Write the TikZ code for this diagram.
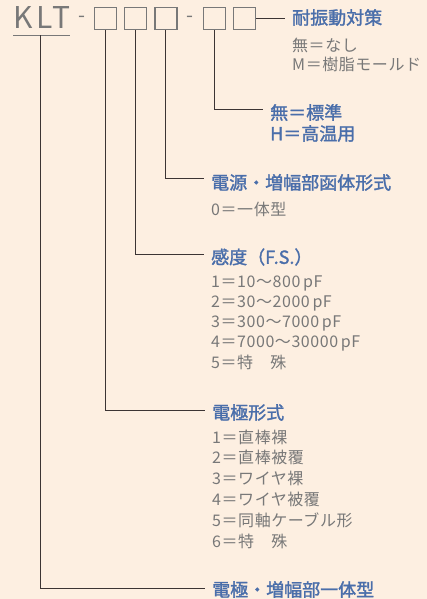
\documentclass[tikz,border=0pt]{standalone}
\usepackage{fontspec}
\setmainfont{Noto Sans CJK JP}
\newfontfamily\kltfont[LetterSpace=12]{Noto Sans CJK JP}
\newfontfamily\headfont[FakeBold=1.6]{Noto Sans CJK JP}
\newfontfamily\itemfont[LetterSpace=3.5]{Noto Sans CJK JP}
\usetikzlibrary{positioning}
\definecolor{paper}{HTML}{FDEFE1}
\definecolor{ink}{HTML}{3C3434}
\definecolor{greytxt}{HTML}{787878}
\definecolor{bluetxt}{HTML}{4A6EAA}
\tikzset{
	slot/.style={
		draw=greytxt,
		line width=1.6pt,
		minimum size=22pt,
		inner sep=0pt
	},
	head/.style={
		anchor=west,
		inner xsep=7pt,
		inner ysep=0pt,
		text=bluetxt,
		font=\fontsize{18}{18}\headfont
	},
	item/.style={
		anchor=west,
		inner sep=0pt,
		text height=13pt,
		text depth=3pt,
		text=greytxt,
		font=\fontsize{16}{16}\itemfont
	},
	lead/.style={
		draw=ink,
		line width=1pt
	}
}

\begin{document}
\begin{tikzpicture}[x=1pt, y=-1pt]
\fill[paper] (0,0) rectangle (427,599);
\useasboundingbox (0,0) rectangle (427,599);

% model code
\node[anchor=base west, inner sep=0pt, text=greytxt, font=\fontsize{30}{30}\kltfont] (klt) at (13,29) {KLT};
\draw[greytxt, line width=1.2pt] ([yshift=-6pt]klt.south west) -- ([yshift=-6pt]klt.south east);
\node[text=greytxt, font=\fontsize{20}{20}\selectfont, inner sep=0pt] (d1) at (82,19) {-};
\node[slot] (b1) at (105.5,18.5) {};
\node[slot, right=6.5pt of b1] (b2) {};
\node[slot, right=6.5pt of b2] (b3) {};
\node[text=greytxt, font=\fontsize{20}{20}\selectfont, inner sep=0pt] (d2) at (190,19) {-};
\node[slot] (b4) at (214.5,18.5) {};
\node[slot, right=6.5pt of b4] (b5) {};

% headings
\node[head] (hd5) at (285,17.5) {耐振動対策};
\node[head] (hd4) at (263,112.5) {無＝標準};
\node[head] (hd4b) at (263,133.5) {H＝高温用};
\node[head] (hd3) at (204,182.5) {電源・増幅部函体形式};
\node[head] (hd2) at (204,257) {感度（F.S.）};
\node[head] (hd1) at (205,412.5) {電極形式};
\node[head] (hd0) at (205,589.5) {電極・増幅部一体型};

% choices
\node[item] (m1) at (292,47) {無＝なし};
\node[item] (m2) at (292,65.5) {M＝樹脂モールド};
\node[item] (c1) at (211,210) {0＝一体型};
\foreach \t [count=\i] in {1＝10〜800\,pF, 2＝30〜2000\,pF, 3＝300〜7000\,pF, 4＝7000〜30000\,pF, 5＝特　殊}{
	\node[item] (s\i) at (211,261.75+20.25*\i) {\t};
}
\foreach \t [count=\i] in {1＝直棒裸, 2＝直棒被覆, 3＝ワイヤ裸, 4＝ワイヤ被覆, 5＝同軸ケーブル形, 6＝特　殊}{
	\node[item] (e\i) at (212,417.2+20.8*\i) {\t};
}

% leads
\draw[lead] (b5.east) -- (b5.east -| hd5.west);
\draw[lead] (b4.south) |- ([yshift=3pt]hd4.west);
\draw[lead] (b3.south) |- ([yshift=4pt]hd3.west);
\draw[lead] (b2.south) |- ([yshift=3pt]hd2.west);
\draw[lead] (b1.south) |- ([yshift=2.5pt]hd1.west);
\draw[lead] ([yshift=-6pt,xshift=-1.5pt]klt.south) |- ([yshift=1.5pt]hd0.west);
\end{tikzpicture}
\end{document}
